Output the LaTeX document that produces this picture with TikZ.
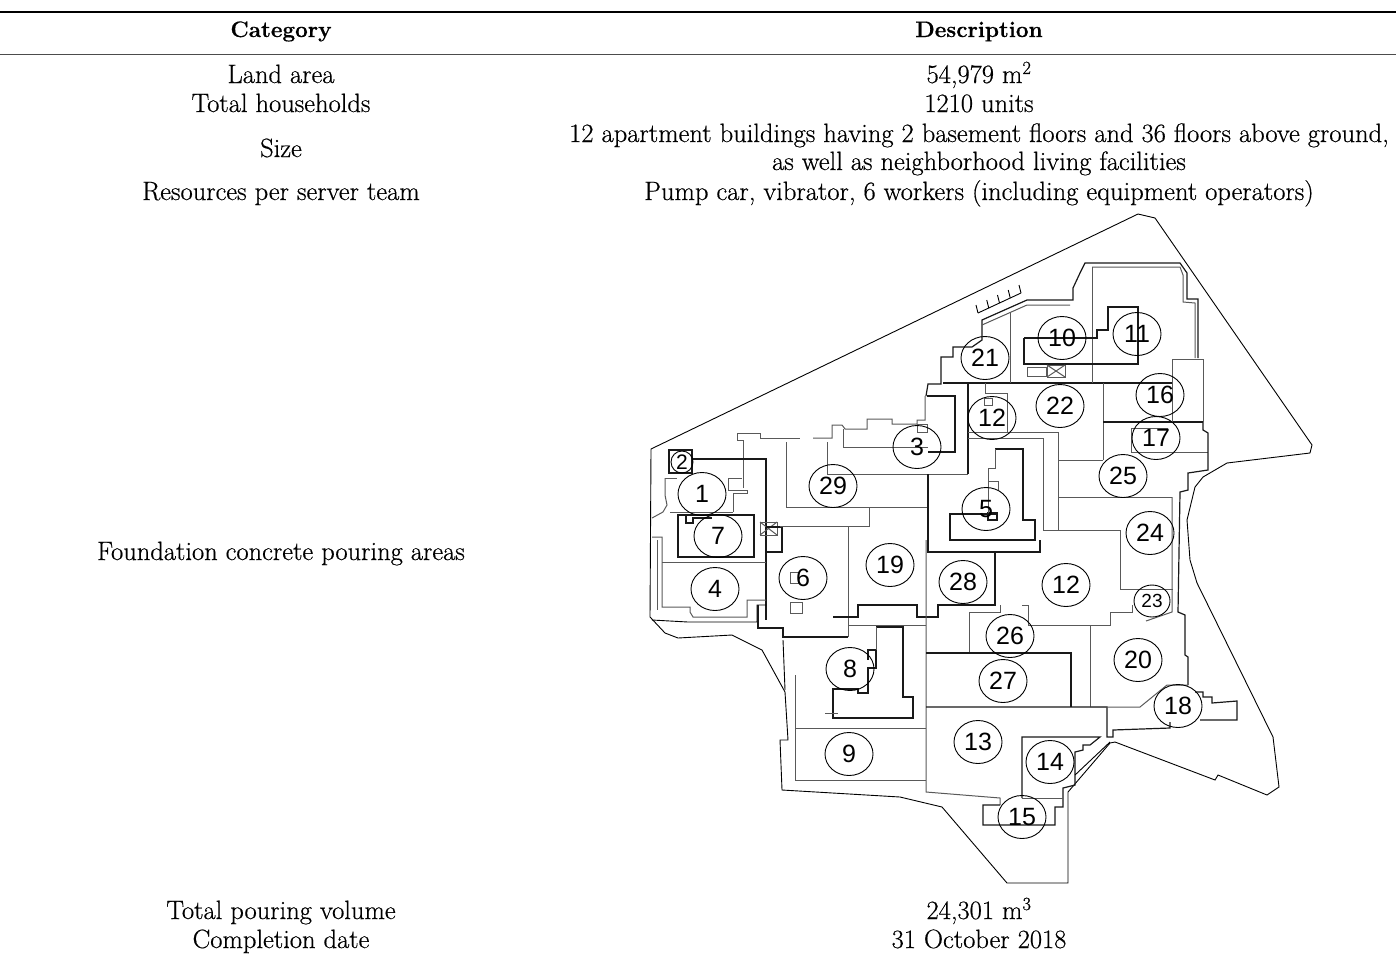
\documentclass[tikz,border=0pt]{standalone}
\usepackage{fontspec}
\setmainfont{Latin Modern Roman}[FakeBold=0.5]
\usetikzlibrary{shapes.geometric,calc}
\newfontfamily\planfont{Liberation Sans}
\tikzset{
  tcell/.style={anchor=base,inner sep=0pt,font=\fontsize{26.5}{30}\selectfont},
  thead/.style={anchor=base,inner sep=0pt,font=\fontsize{22.5}{28}\selectfont\bfseries},
  zone/.style={ellipse,draw,line width=0.9pt,minimum width=48pt,minimum height=43pt,inner sep=0pt,font=\fontsize{25}{25}\planfont},
  smallzone/.style={ellipse,draw,line width=0.9pt,minimum width=36pt,minimum height=32pt,inner sep=0pt,font=\fontsize{19}{19}\planfont},
  tinyzone/.style={circle,draw,line width=0.9pt,minimum size=22pt,inner sep=0pt,font=\fontsize{21}{21}\planfont},
  site/.style={line width=0.9pt,black},
  bld/.style={line width=1.2pt,black!90},
  zl/.style={line width=1pt,black!65},
}
\begin{document}
\begin{tikzpicture}[x=1pt,y=-1pt]
\useasboundingbox (0,0) rectangle (1396,959);
% ---------- table ----------
\draw[line width=2pt] (0,12) -- (1396,12);
\draw[line width=1pt,black!70] (0,54) -- (1396,54);
\node[thead] (hcat) at (281,37) {Category};
\node[thead] (hdesc) at (979,37) {Description};
\node[tcell] (c1) at (281,83) {Land area};
\node[tcell] (d1) at (979,83) {54,979 m\textsuperscript{2}};
\node[tcell] (c2) at (281,112) {Total households};
\node[tcell] (d2) at (979,112) {1210 units};
\node[tcell] (c3) at (281,157) {Size};
\node[tcell] (d3a) at (979,142) {12 apartment buildings having 2 basement floors and 36 floors above ground,};
\node[tcell] (d3b) at (979,170) {as well as neighborhood living facilities};
\node[tcell] (c4) at (281,200) {Resources per server team};
\node[tcell] (d4) at (979,200) {Pump car, vibrator, 6 workers (including equipment operators)};
\node[tcell] (c5) at (281,560) {Foundation concrete pouring areas};
\node[tcell] (c6) at (281,919) {Total pouring volume};
\node[tcell] (d6) at (979,919) {24,301 m\textsuperscript{3}};
\node[tcell] (c7) at (281,948) {Completion date};
\node[tcell] (d7) at (979,948) {31 October 2018};
% ---------- site boundary ----------
\draw[site] (651,449) -- (1138,214) -- (1155,218) -- (1312,445) -- (1310,453) -- (1227,463) -- (1203,477) -- (1195,487) -- (1187,520) -- (1190,560) -- (1197,583) -- (1273,737) -- (1279,787) -- (1267,795) -- (1218,775) -- (1215,780) -- (1115,742) -- (1110,743) -- (1068,792) -- (1068,883) -- (1007,883) -- (942,807) -- (900,797) -- (782,790) -- (780,740) -- (788,740) -- (785,692) -- (762,650) -- (732,635) -- (678,638) -- (665,633) -- (650,617) -- cycle;
% hatch
\draw[site] (978,313) -- (1021,293);
\foreach \t in {0,0.25,0.5,0.75,1}{\draw[site] ($(978,313)!\t!(1021,293)$) -- ++(-2,-8);}
% ---------- building outline ----------
\draw[bld] (926,396) -- (928,384) -- (941,384) -- (941,357) -- (953,357) -- (953,347) -- (972,347) -- (982,340) -- (982,320) -- (1027,300) -- (1073,300) -- (1073,288) -- (1080,273) -- (1085,263) -- (1180,263) -- (1187,273) -- (1187,299) -- (1198,299) -- (1198,358);
\draw[zl] (1092,267) -- (1180,267) -- (1183,275) -- (1183,302) -- (1195,303) -- (1195,358);
\draw[zl] (982,325) -- (1027,305) -- (1070,305);
% upper left gray outline
\draw[zl] (743,488) -- (743,440) -- (737,440) -- (737,433) -- (760,433) -- (760,438) -- (800,438);
\draw[zl] (813,438) -- (832,438) -- (832,425) -- (842,425) -- (845,429) -- (867,429) -- (867,419) -- (892,419) -- (892,424) -- (917,424) -- (917,420) -- (925,420) -- (925,396);
\draw[zl] (917,424) rectangle (927,432);
% left block
\draw[bld] (669,450) rectangle (692,473);
\draw[bld] (692,459) -- (766,459) -- (766,620);
\draw[zl] (665,478) -- (677,478); \draw[zl] (728,478) -- (742,478);
\draw[zl] (665,478) -- (665,495) -- (667,505) -- (663,512) -- (652,518);
\draw[zl] (728,478) -- (728,490) -- (747,490) -- (747,493) -- (733,493) -- (733,512);
\draw[zl] (670,512) -- (733,512);
\draw[bld] (678,515) rectangle (754,557);
\draw[bld] (686,515) -- (686,523) -- (693,523) -- (693,518) -- (712,518);
\draw[zl] (760,522) rectangle (777,535); \draw[zl] (760,522) -- (777,535); \draw[zl] (777,522) -- (760,535);
\draw[bld] (766,527) -- (782,527) -- (782,552) -- (766,552);
\draw[zl] (652,537) -- (662,537) -- (662,607) -- (690,607) -- (690,612) -- (693,617) -- (747,617) -- (747,600) -- (766,600);
\draw[zl] (657,540) -- (657,610);
\draw[zl] (662,562) -- (766,562);
\draw[site] (652,620) -- (688,622) -- (757,622) -- (757,605) -- (766,605);
% zone 29 / 19 / 6
\draw[zl] (786,442) -- (786,507) -- (928,507);
\draw[zl] (827,442) -- (827,474) -- (968,474);
\draw[zl] (843,429) -- (843,447) -- (928,447);
\draw[bld] (927,396) -- (955,396) -- (955,452) -- (928,452);
\draw[zl] (869,507) -- (869,526) -- (780,526);
\draw[zl] (848,526) -- (848,637);
\draw[bld] (928,474) -- (928,552) -- (1040,552) -- (1040,540);
\draw[bld] (968,383) -- (968,474);
\draw[zl] (790,572) rectangle (798,583);
\draw[zl] (790,602) rectangle (802,613);
\draw[bld] (833,617) -- (858,617) -- (858,605) -- (917,605) -- (917,617) -- (938,617) -- (938,605) -- (995,605) -- (995,552);
\draw[zl] (848,625) -- (926,625);
\draw[bld] (758,605) -- (758,628) -- (783,628) -- (783,637) -- (848,637);
\draw[site] (783,640) -- (785,690);
% zone 8, 9
\draw[zl] (795,675) -- (795,780) -- (926,780);
\draw[zl] (795,728) -- (926,728);
\draw[bld] (876,627) -- (903,627) -- (903,697) -- (913,697) -- (913,718) -- (833,718) -- (833,689) -- (858,689) -- (858,693) -- (868,693) -- (868,668) -- (876,668) -- (876,650) -- (868,650) -- (868,660);
\draw[zl] (876,627) -- (876,650);
\draw[zl] (825,713) -- (838,713);
\draw[zl] (926,540) -- (926,792) -- (1000,798) -- (1000,805);
% zone 5
\draw[zl] (968,432) -- (1058,432);
\draw[zl] (968,438) -- (1043,438) -- (1043,530) -- (1120,530) -- (1120,589) -- (1173,589);
\draw[bld] (995,449) -- (1023,449) -- (1023,520) -- (1035,520) -- (1035,540) -- (950,540) -- (950,514) -- (997,514);
\draw[bld] (988,513) rectangle (997,520);
\draw[zl] (988,513) -- (988,468) -- (995,468) -- (995,449);
\draw[zl] (988,481) -- (998,481) -- (998,490);
% zone 12 upper, 22, 10, 11
\draw[bld] (943,383) -- (1173,383);
\draw[zl] (985,383) -- (985,393) -- (1007,393) -- (1007,432);
\draw[zl] (984,398) rectangle (992,405);
\draw[zl] (1010,313) -- (1010,383);
\draw[zl] (1092,267) -- (1092,383);
\draw[bld] (1024,338) -- (1024,364) -- (1138,364) -- (1138,307) -- (1108,307) -- (1108,330) -- (1097,330) -- (1097,338) -- (1024,338);
\draw[zl] (1027,367) rectangle (1046,376);
\draw[zl] (1047,365) rectangle (1065,377); \draw[zl] (1047,365) -- (1065,377); \draw[zl] (1065,365) -- (1047,377);
\draw[zl] (1058,432) -- (1058,530);
\draw[zl] (1058,460) -- (1103,460);
\draw[zl] (1103,383) -- (1103,460);
\draw[bld] (1103,422) -- (1203,422);
\draw[zl] (1172,359) -- (1203,359) -- (1203,422);
\draw[zl] (1172,359) -- (1172,422);
\draw[zl] (1131,428) -- (1168,428); \draw[zl] (1131,428) -- (1131,452) -- (1208,452);
\draw[bld] (1203,422) -- (1203,430) -- (1208,433) -- (1208,470) -- (1188,473) -- (1188,490) -- (1180,492) -- (1178,612) -- (1185,615) -- (1185,655) -- (1188,657) -- (1188,685);
\draw[zl] (1172,497) -- (1172,612) -- (1146,621);
\draw[zl] (1058,497) -- (1172,497);
% zone 28, 12 lower, 26, 27
\draw[zl] (969,612) -- (1000,612) -- (1000,605);
\draw[zl] (969,612) -- (969,653);
\draw[zl] (1022,605) -- (1028,605) -- (1028,625) -- (1110,625) -- (1110,612) -- (1132,612) -- (1132,605);
\draw[zl] (1090,625) -- (1090,707);
\draw[bld] (926,653) -- (1071,653) -- (1071,707);
\draw[bld] (926,707) -- (1107,707) -- (1107,737) -- (1113,737) -- (1113,730) -- (1170,728) -- (1170,722);
\draw[zl] (1090,707) -- (1140,707) -- (1167,685) -- (1188,685);
\draw[bld] (1195,692) -- (1203,692) -- (1203,697) -- (1212,697) -- (1212,703) -- (1237,701) -- (1237,720) -- (1200,720);
% zone 14, 15
\draw[bld] (1022,798) -- (1022,737) -- (1100,737) -- (1090,745) -- (1083,745) -- (1083,750) -- (1075,752) -- (1075,785) -- (1063,788) -- (1063,807) -- (1055,807) -- (1055,825) -- (983,825) -- (983,805) -- (1000,805);
\draw[zl] (1022,798) -- (1063,798);
\draw[site] (1110,742) -- (1075,775);
% ---------- zone labels ----------
\node[zone] (z10) at (1062,338) {10};
\node[zone] (z11) at (1137,334) {11};
\node[zone] (z21) at (985,358) {21};
\node[zone] (z16) at (1160,395) {16};
\node[zone] (z22) at (1060,406) {22};
\node[zone] (z12a) at (992,418) {12};
\node[zone] (z17) at (1156,438) {17};
\node[zone] (z3) at (917,447) {3};
\node[zone] (z25) at (1123,476) {25};
\node[tinyzone] (z2) at (682,462) {2};
\node[zone] (z29) at (833,486) {29};
\node[zone] (z1) at (702,494) {1};
\node[zone] (z5) at (986,509) {5};
\node[zone] (z24) at (1150,533) {24};
\node[zone] (z7) at (718,536) {7};
\node[zone] (z19) at (890,565) {19};
\node[zone] (z6) at (803,578) {6};
\node[zone] (z28) at (963,582) {28};
\node[zone] (z12b) at (1066,585) {12};
\node[zone] (z4) at (715,589) {4};
\node[smallzone] (z23) at (1152,601) {23};
\node[zone] (z26) at (1010,636) {26};
\node[zone] (z20) at (1138,660) {20};
\node[zone] (z8) at (850,669) {8};
\node[zone] (z27) at (1003,681) {27};
\node[zone] (z18) at (1178,706) {18};
\node[zone] (z13) at (978,742) {13};
\node[zone] (z9) at (849,754) {9};
\node[zone] (z14) at (1050,762) {14};
\node[zone] (z15) at (1022,817) {15};
\end{tikzpicture}
\end{document}
